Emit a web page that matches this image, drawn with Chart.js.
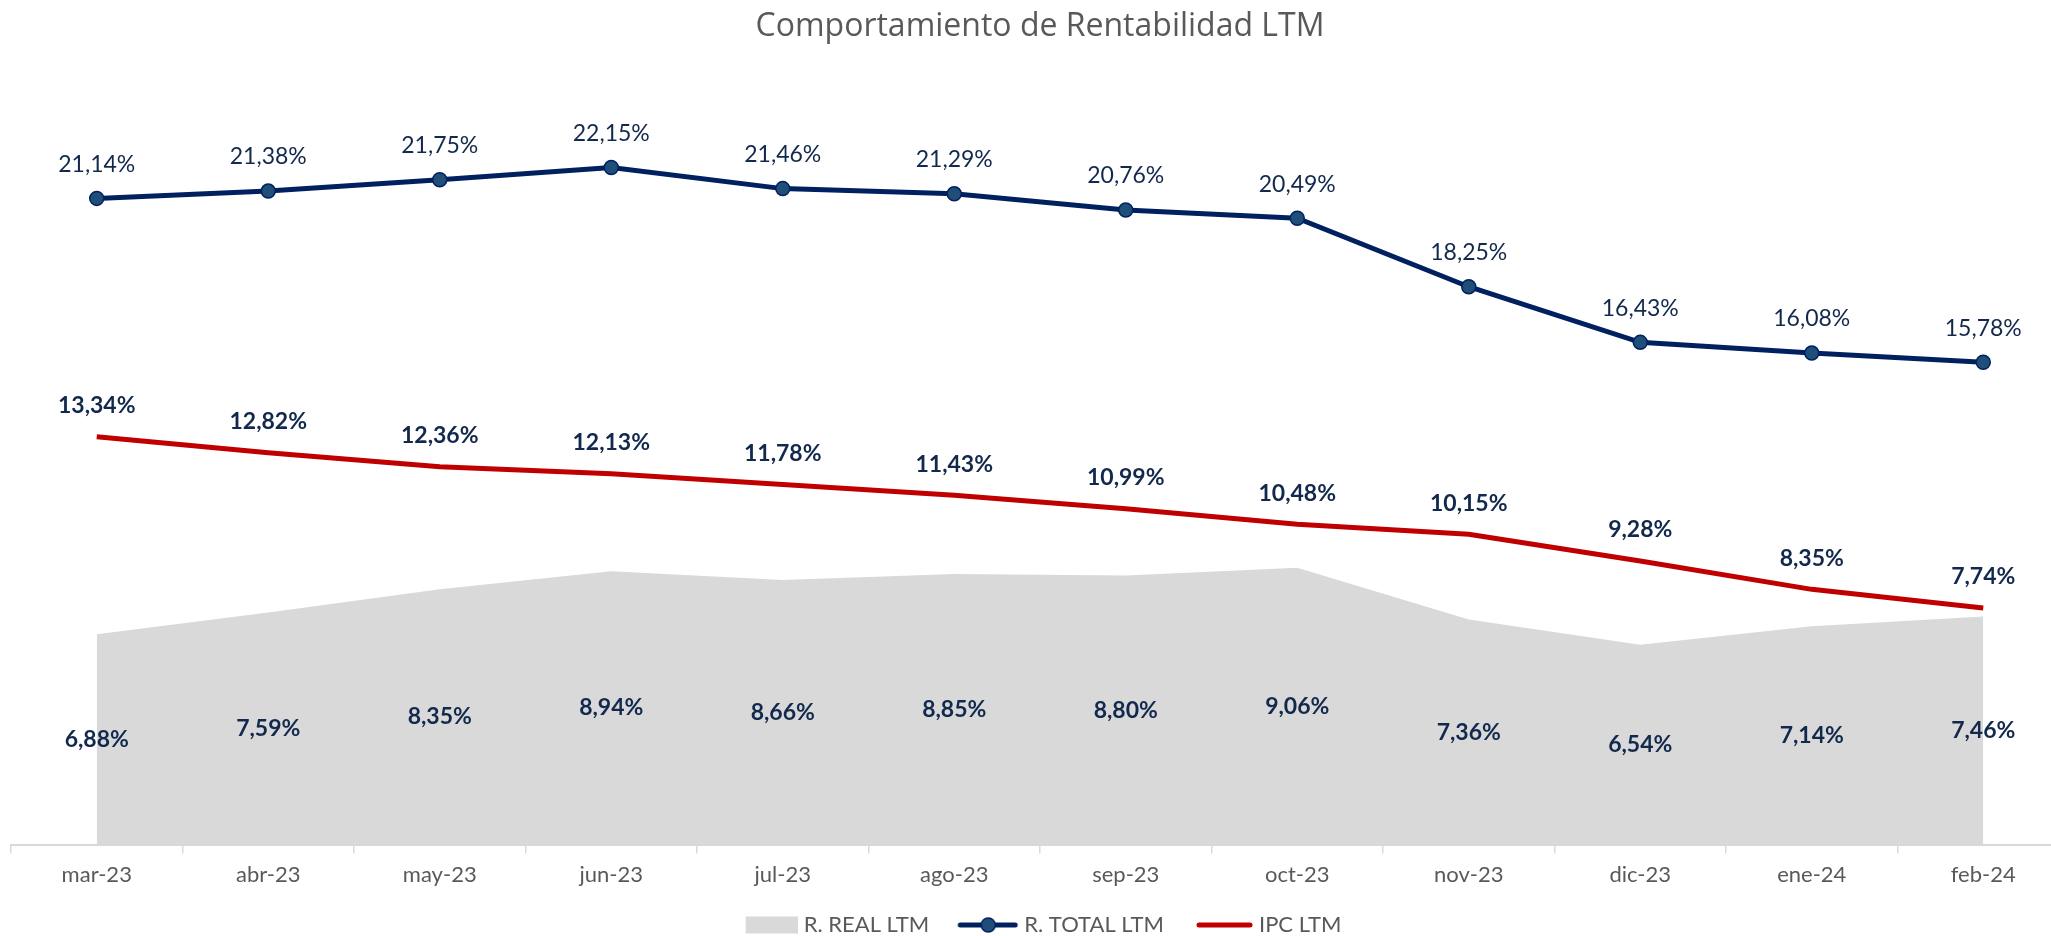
<!DOCTYPE html>
<html>
<head>
<meta charset="utf-8">
<script src="https://cdn.jsdelivr.net/npm/chart.js@4/dist/chart.umd.min.js"></script>
<style>
  html, body { margin: 0; padding: 0; overflow: hidden; background: #ffffff; }
  #wrap { position: absolute; left: 0; top: 0; width: 2080px; height: 946px; }
</style>
</head>
<body>
<div id="wrap"><canvas id="c" width="2080" height="946"></canvas></div>
<script>
const categories = ['mar-23','abr-23','may-23','jun-23','jul-23','ago-23','sep-23','oct-23','nov-23','dic-23','ene-24','feb-24'];
const realLTM  = [6.88, 7.59, 8.35, 8.94, 8.66, 8.85, 8.80, 9.06, 7.36, 6.54, 7.14, 7.46];
const totalLTM = [21.14, 21.38, 21.75, 22.15, 21.46, 21.29, 20.76, 20.49, 18.25, 16.43, 16.08, 15.78];
const ipcLTM   = [13.34, 12.82, 12.36, 12.13, 11.78, 11.43, 10.99, 10.48, 10.15, 9.28, 8.35, 7.74];
const seriesNames = ['R. REAL LTM', 'R. TOTAL LTM', 'IPC LTM'];
const titleText = 'Comportamiento de Rentabilidad LTM';

const NAVY = '#002060', MARKER = '#1f4e79', RED = '#c00000', GRAY = '#d9d9d9';
const LABEL = '#12284c', TEXTGRAY = '#595959';
const FONT = 'Lato, "Open Sans", sans-serif';

const fmt = v => v.toFixed(2).replace('.', ',') + '%';

// legend symbol images
const BOXW = 66;
function makeSym(kind) {
  const w = BOXW + 10, h = 24;
  const cv = document.createElement('canvas');
  cv.width = w; cv.height = h;
  const g = cv.getContext('2d');
  const cy = h / 2;
  if (kind === 'area') {
    g.fillStyle = GRAY; g.fillRect(w - 52, cy - 8.5, 52, 17);
  } else if (kind === 'total') {
    g.strokeStyle = NAVY; g.lineWidth = 5; g.lineCap = 'round';
    g.beginPath(); g.moveTo(w - 58, cy); g.lineTo(w - 3, cy); g.stroke();
    g.fillStyle = MARKER; g.strokeStyle = NAVY; g.lineWidth = 1.5;
    g.beginPath(); g.arc(w - 30, cy, 7, 0, Math.PI * 2); g.fill(); g.stroke();
  } else {
    g.strokeStyle = RED; g.lineWidth = 5; g.lineCap = 'round';
    g.beginPath(); g.moveTo(w - 54, cy); g.lineTo(w - 3, cy); g.stroke();
  }
  return cv;
}
const syms = [makeSym('area'), makeSym('total'), makeSym('ipc')];

const labelPlugin = {
  id: 'valueLabels',
  afterDatasetsDraw(chart) {
    const ctx = chart.ctx;
    const y = chart.scales.y;
    ctx.save();
    ctx.textAlign = 'center';
    ctx.textBaseline = 'middle';
    ctx.fillStyle = LABEL;
    chart.data.datasets.forEach((ds, i) => {
      const meta = chart.getDatasetMeta(i);
      meta.data.forEach((pt, j) => {
        const v = ds.data[j];
        if (ds.kind === 'area') {
          ctx.font = 'bold 23px ' + FONT;
          ctx.fillText(fmt(v), pt.x, y.getPixelForValue(v / 2));
        } else if (ds.kind === 'total') {
          ctx.font = '23px ' + FONT;
          ctx.fillText(fmt(v), pt.x, pt.y - 34);
        } else {
          ctx.font = 'bold 23px ' + FONT;
          ctx.fillText(fmt(v), pt.x, pt.y - 31);
        }
      });
    });
    ctx.restore();
  }
};

const legendShift = {
  id: 'legendShift',
  afterLayout(chart) {
    if (chart.legend) { chart.legend.left -= 6; chart.legend.right -= 6; }
  }
};

new Chart(document.getElementById('c'), {
  type: 'line',
  data: {
    labels: categories,
    datasets: [
      { kind: 'area', label: seriesNames[0], data: realLTM, fill: 'origin', backgroundColor: GRAY,
        borderWidth: 0, borderColor: 'rgba(0,0,0,0)', pointRadius: 0, tension: 0, order: 3 },
      { kind: 'total', label: seriesNames[1], data: totalLTM, fill: false, borderColor: NAVY, borderWidth: 5,
        pointRadius: 7, pointBackgroundColor: MARKER, pointBorderColor: NAVY, pointBorderWidth: 1.5, tension: 0, order: 1 },
      { kind: 'ipc', label: seriesNames[2], data: ipcLTM, fill: false, borderColor: RED, borderWidth: 5,
        pointRadius: 0, tension: 0, order: 2 }
    ]
  },
  options: {
    responsive: false,
    animation: false,
    events: [],
    layout: { padding: { left: 11, right: 11, top: 0, bottom: 0 } },
    plugins: {
      title: {
        display: true, text: titleText, color: TEXTGRAY,
        font: { family: '"Open Sans", sans-serif', size: 32, weight: 'normal' },
        padding: { top: 8, bottom: 34 }
      },
      legend: {
        display: true, position: 'bottom',
        labels: {
          usePointStyle: true, pointStyleWidth: BOXW, padding: 18,
          color: TEXTGRAY, font: { family: FONT, size: 22 },
          generateLabels: (chart) => seriesNames.map((n, i) => ({
            text: n, pointStyle: syms[i], fillStyle: 'transparent', strokeStyle: 'transparent',
            lineWidth: 0, hidden: false, datasetIndex: i, fontColor: TEXTGRAY
          }))
        }
      },
      tooltip: { enabled: false }
    },
    scales: {
      x: {
        type: 'category', offset: true,
        grid: { offset: true, drawOnChartArea: false, drawTicks: true, tickLength: 9, color: GRAY, lineWidth: 1.5 },
        border: { display: true, color: GRAY, width: 2 },
        ticks: { color: TEXTGRAY, font: { family: FONT, size: 22 }, padding: 8, maxRotation: 0, autoSkip: false }
      },
      y: { display: false, min: 0, max: 25 }
    }
  },
  plugins: [labelPlugin, legendShift]
});
</script>
</body>
</html>
